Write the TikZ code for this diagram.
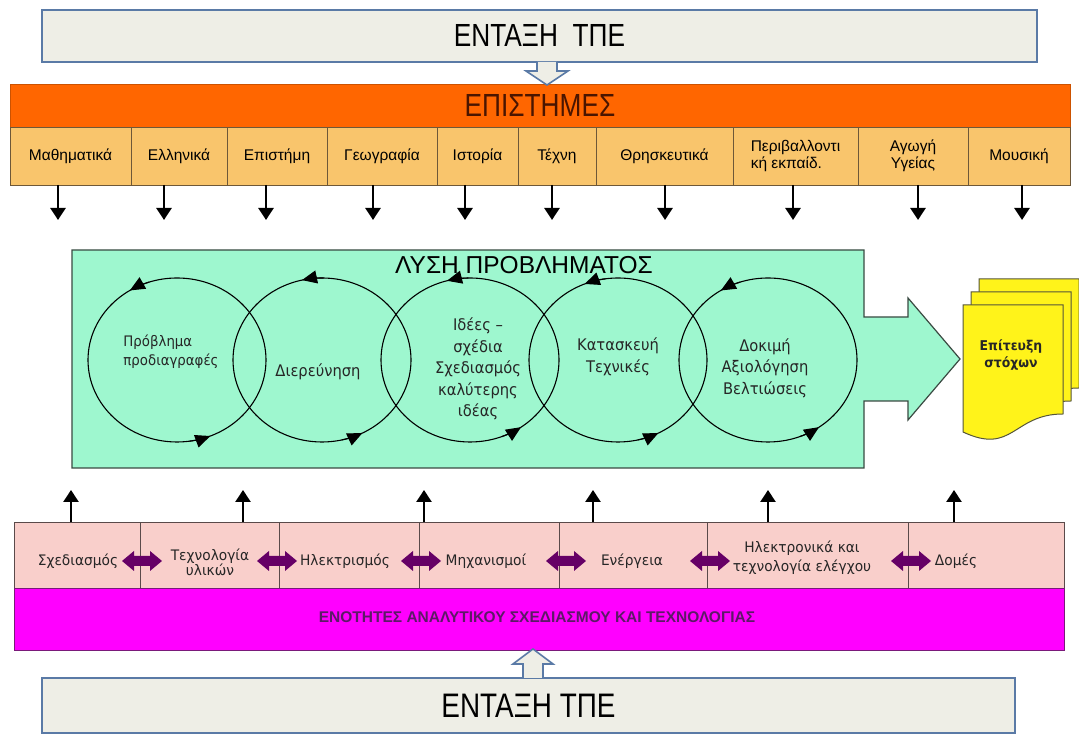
\documentclass[tikz,border=0pt]{standalone}
\usepackage{fontspec}
\setmainfont{Liberation Sans}
\newfontfamily\narrowfont[FakeStretch=0.82]{Liberation Sans}
\newfontfamily\ringfont[FakeStretch=0.92]{DejaVu Sans}
\newfontfamily\rowfont[FakeStretch=0.95]{DejaVu Sans}
\usetikzlibrary{shapes.geometric,arrows.meta}

\definecolor{bannerfill}{HTML}{EEEEE6}
\definecolor{bannerline}{HTML}{5A7AA6}
\definecolor{orangebar}{HTML}{FF6600}
\definecolor{sciencetext}{HTML}{4A1500}
\definecolor{subjfill}{HTML}{F9C56C}
\definecolor{subjline}{HTML}{6E5838}
\definecolor{greenfill}{HTML}{9EF7CF}
\definecolor{greenline}{HTML}{3A4A42}
\definecolor{pinkfill}{HTML}{F9CFCB}
\definecolor{pinkline}{HTML}{5A4A4A}
\definecolor{magentabar}{HTML}{FF00FF}
\definecolor{magentaline}{HTML}{7A1A7A}
\definecolor{magtext}{HTML}{5C1A66}
\definecolor{purplearr}{HTML}{660066}
\definecolor{docyellow}{HTML}{FFF31A}
\definecolor{docline}{HTML}{55553A}

\tikzset{
  banner/.style={draw=bannerline, line width=1.8pt, fill=bannerfill, inner sep=0pt, outer sep=0pt},
  hollowarr/.style={draw=bannerline, line width=1.6pt, fill=bannerfill, line join=miter},
  subj/.style={draw=subjline, line width=0.9pt, fill=subjfill, minimum height=58pt, inner sep=1pt, outer sep=0pt,
               align=center, font=\fontsize{15.5}{17}\selectfont},
  dnarr/.style={line width=2.6pt, -{Triangle[length=12pt,width=15pt]}},
  uparr/.style={line width=2.6pt, -{Triangle[length=12pt,width=15pt]}},
  ring/.style={ellipse, draw=black, line width=1.1pt, minimum width=178pt, minimum height=164pt, inner sep=0pt},
  ringarr/.style={line width=1.1pt, -{Triangle[length=15pt,width=13pt]}},
  ringtext/.style={align=center, font=\ringfont\fontsize{16}{21.5}\selectfont, text=black!85},
  cell/.style={draw=pinkline, line width=0.9pt, fill=pinkfill, minimum height=66pt, inner sep=0pt, outer sep=0pt},
  celltext/.style={align=center, font=\rowfont\fontsize{14.5}{15}\selectfont, text=black!85},
  docpage/.pic={\path[draw=docline, line width=1pt, fill=docyellow]
      (0,0) -- (100,0) -- (100,-109) .. controls (50,-109) and (50,-150.5) .. (0,-127) -- cycle;},
  dblarrow/.pic={\fill[purplearr] (-20,0) -- (-8,10) -- (-8,5) -- (8,5) -- (8,10) -- (20,0)
      -- (8,-10) -- (8,-5) -- (-8,-5) -- (-8,-10) -- cycle;}
}

\begin{document}
\begin{tikzpicture}[x=1pt,y=1pt]
\useasboundingbox (0,0) rectangle (1079,735);
\fill[white] (0,0) rectangle (1079,735);

% ---- ICT integration, top ----
\node[banner, minimum width=995pt, minimum height=52pt,
      font=\narrowfont\fontsize{32}{32}\selectfont] (top) at (539.5,699) {ΕΝΤΑΞΗ\ \ ΤΠΕ};

% ---- sciences bar ----
\node[fill=orangebar, draw=orangebar!80!black, line width=0.8pt, minimum width=1060pt, minimum height=43pt,
      inner sep=0pt, outer sep=0pt, text=sciencetext,
      font=\narrowfont\fontsize{32}{32}\selectfont] (sci) at (540,629.5) {ΕΠΙΣΤΗΜΕΣ};

\draw[hollowarr] (537,673) -- (537,664) -- (526,664) -- (547,650) -- (568,664) -- (557,664) -- (557,673);

% ---- school subjects ----
\node[subj, minimum width=121pt] (s1) at (70.5,579) {Μαθηματικά};
\node[subj, minimum width=96pt]  (s2) at (179,579) {Ελληνικά};
\node[subj, minimum width=100pt] (s3) at (277,579) {Επιστήμη};
\node[subj, minimum width=110pt] (s4) at (382,579) {Γεωγραφία};
\node[subj, minimum width=81pt]  (s5) at (477.5,579) {Ιστορία};
\node[subj, minimum width=78pt]  (s6) at (557,579) {Τέχνη};
\node[subj, minimum width=137pt] (s7) at (664.5,579) {Θρησκευτικά};
\node[subj, minimum width=125pt, align=left] (s8) at (795.5,579) {Περιβαλλοντι\\κή εκπαίδ.};
\node[subj, minimum width=110pt] (s9) at (913,579) {Αγωγή\\Υγείας};
\node[subj, minimum width=102pt] (s10) at (1019,579) {Μουσική};

\draw[dnarr] (s1.south -| 58,0) -- ++(0,-35);
\draw[dnarr] (s2.south -| 164,0) -- ++(0,-35);
\draw[dnarr] (s3.south -| 266,0) -- ++(0,-35);
\draw[dnarr] (s4.south -| 373,0) -- ++(0,-35);
\draw[dnarr] (s5.south -| 465,0) -- ++(0,-35);
\draw[dnarr] (s6.south -| 552,0) -- ++(0,-35);
\draw[dnarr] (s7.south -| 665,0) -- ++(0,-35);
\draw[dnarr] (s8.south -| 793,0) -- ++(0,-35);
\draw[dnarr] (s9.south -| 918,0) -- ++(0,-35);
\draw[dnarr] (s10.south -| 1022,0) -- ++(0,-35);

% ---- problem solving panel with its outgoing arrow ----
\path[draw=greenline, line width=1.2pt, fill=greenfill, line join=miter]
  (72,485) -- (864,485) -- (864,418) -- (908,418) -- (908,437) -- (960,376)
  -- (908,315) -- (908,334) -- (864,334) -- (864,267) -- (72,267) -- cycle;
\node[font=\fontsize{24.5}{24.5}\selectfont] (title) at (524,470) {ΛΥΣΗ ΠΡΟΒΛΗΜΑΤΟΣ};

\node[ring] (c1) at (177,375) {};
\node[ring] (c2) at (322,375) {};
\node[ring] (c3) at (470,375) {};
\node[ring] (c4) at (618,375) {};
\node[ring] (c5) at (768,375) {};

% anticlockwise cycle arrows on each ring
\foreach \c/\a/\b in {c1/122/-68, c2/103/-63, c3/105/-55, c4/112/-63, c5/122/-55}{
  \draw[ringarr] ([shift={(\a-14:89pt and 82pt)}]\c.center)
      arc[start angle=\a-14, end angle=\a, x radius=89pt, y radius=82pt];
  \draw[ringarr] ([shift={(\b-14:89pt and 82pt)}]\c.center)
      arc[start angle=\b-14, end angle=\b, x radius=89pt, y radius=82pt];
}

\node[ringtext, align=left, font=\ringfont\fontsize{14.5}{19}\selectfont] (t1) at (171,383) {Πρόβλημα\\προδιαγραφές};
\node[ringtext] (t2) at (318,363) {Διερεύνηση};
\node[ringtext] (t3) at (478,366) {Ιδέες –\\σχέδια\\Σχεδιασμός\\καλύτερης\\ιδέας};
\node[ringtext] (t4) at (618,378) {Κατασκευή\\Τεχνικές};
\node[ringtext] (t5) at (765,367) {Δοκιμή\\Αξιολόγηση\\Βελτιώσεις};

% ---- stacked documents ----
\pic at (979,456) {docpage};
\pic at (971,443) {docpage};
\pic at (963,430) {docpage};
\node[align=center, font=\ringfont\bfseries\fontsize{13.5}{17}\selectfont, text=black!85] (goal) at (1011,380) {Επίτευξη\\στόχων};

% ---- curriculum units ----
\node[cell, minimum width=126pt] (p1) at (77,180) {};
\node[cell, minimum width=139pt] (p2) at (209.5,180) {};
\node[cell, minimum width=140pt] (p3) at (349,180) {};
\node[cell, minimum width=140pt] (p4) at (489,180) {};
\node[cell, minimum width=148pt] (p5) at (633,180) {};
\node[cell, minimum width=201pt] (p6) at (807.5,180) {};
\node[cell, minimum width=156pt] (p7) at (986,180) {};

\node[celltext] (l1) at (78,174) {Σχεδιασμός};
\node[celltext] (l2) at (210,173) {Τεχνολογία\\υλικών};
\node[celltext] (l3) at (345,174) {Ηλεκτρισμός};
\node[celltext] (l4) at (486,174) {Μηχανισμοί};
\node[celltext] (l5) at (632,174) {Ενέργεια};
\node[celltext, font=\rowfont\fontsize{14.5}{19}\selectfont] (l6) at (802,177) {Ηλεκτρονικά και\\τεχνολογία ελέγχου};
\node[celltext] (l7) at (956,174) {Δομές};

\pic at (142,174) {dblarrow};
\pic at (277,174) {dblarrow};
\pic at (421,174) {dblarrow};
\pic at (566,174) {dblarrow};
\pic at (710,174) {dblarrow};
\pic at (911,174) {dblarrow};

\draw[uparr] (p1.north -| 71,0) -- ++(0,32);
\draw[uparr] (p2.north -| 243,0) -- ++(0,32);
\draw[uparr] (p4.north -| 424,0) -- ++(0,32);
\draw[uparr] (p5.north -| 593,0) -- ++(0,32);
\draw[uparr] (p6.north -| 768,0) -- ++(0,32);
\draw[uparr] (p7.north -| 954,0) -- ++(0,32);

% ---- units bar ----
\node[fill=magentabar, draw=magentaline, line width=0.9pt, minimum width=1050pt, minimum height=62pt,
      inner sep=0pt, outer sep=0pt] (units) at (539,116) {};
\node[text=magtext, font=\bfseries\fontsize{15.5}{16}\selectfont] (unitstext) at (537,118)
  {ΕΝΟΤΗΤΕΣ ΑΝΑΛΥΤΙΚΟΥ ΣΧΕΔΙΑΣΜΟΥ ΚΑΙ ΤΕΧΝΟΛΟΓΙΑΣ};

% ---- ICT integration, bottom ----
\node[banner, minimum width=973pt, minimum height=55pt,
      font=\narrowfont\fontsize{34}{34}\selectfont] (bottom) at (528.5,29.5) {ΕΝΤΑΞΗ ΤΠΕ};
\draw[hollowarr] (523,57) -- (523,71) -- (513,71) -- (533,86) -- (553,71) -- (543,71) -- (543,57);
\end{tikzpicture}
\end{document}
